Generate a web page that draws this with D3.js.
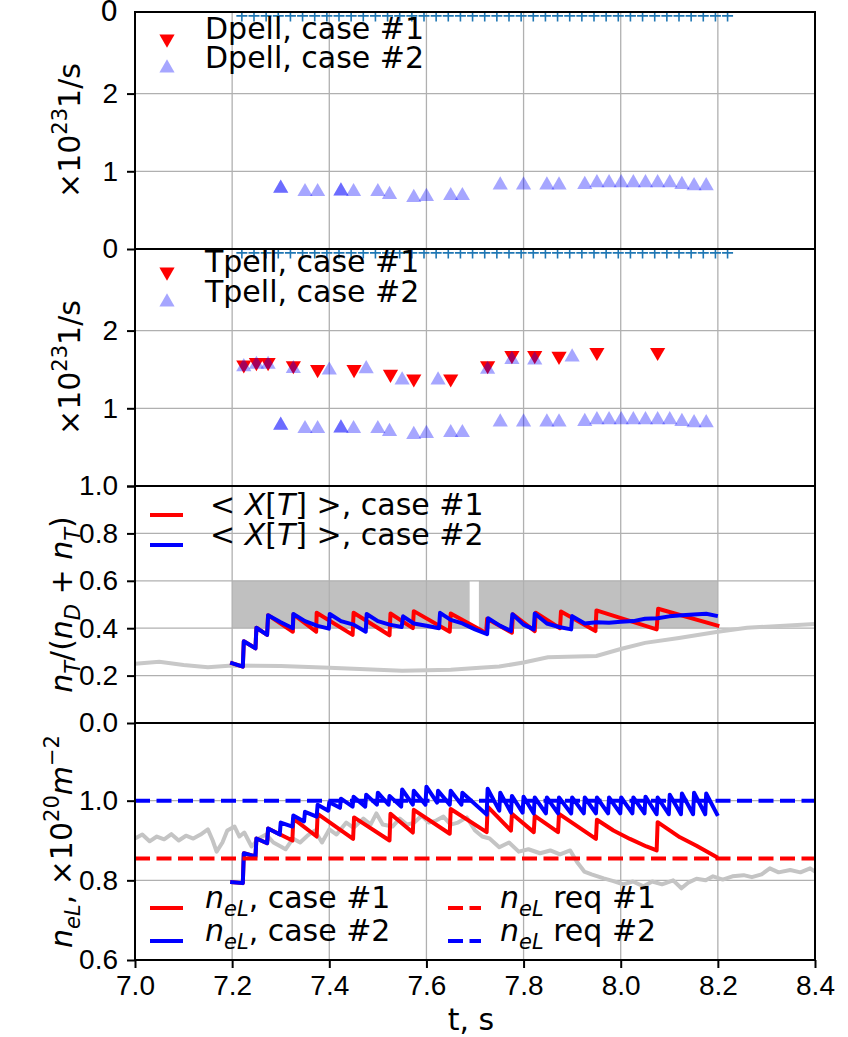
<!DOCTYPE html>
<html>
<head>
<meta charset="utf-8">
<script src="https://cdnjs.cloudflare.com/ajax/libs/d3/7.8.5/d3.min.js"></script>
<style>
  body { margin: 0; background: #fff; }
  svg { display: block; font-family: "DejaVu Sans", sans-serif; }
</style>
</head>
<body>
<svg id="chart" width="848" height="1037"></svg>
<script>
// ---- data ----
const tTicks = [7.0, 7.2, 7.4, 7.6, 7.8, 8.0, 8.2, 8.4];
const rateTicks = [0, 1, 2];
const fracTicks = [0.0, 0.2, 0.4, 0.6, 0.8, 1.0];
const nelTicks = [0.6, 0.8, 1.0];

// blue "+" clock row along the top of the two pellet panels
const clockT = [7.22, 7.245, 7.27, 7.295, 7.32, 7.345, 7.37, 7.395, 7.42, 7.445, 7.47, 7.495,
  7.52, 7.545, 7.57, 7.595, 7.62, 7.645, 7.67, 7.695, 7.72, 7.745, 7.77, 7.795, 7.82, 7.845,
  7.87, 7.895, 7.92, 7.945, 7.97, 7.995, 8.02, 8.045, 8.07, 8.095, 8.12, 8.145, 8.17, 8.195, 8.22];
const clockLevel = 3.0;

// D pellets, case #2 (no D pellets in case #1)
const dpell2 = [[7.30, 0.78], [7.30, 0.78], [7.35, 0.737], [7.376, 0.737], [7.424, 0.746], [7.424, 0.746],
  [7.45, 0.737], [7.50, 0.737], [7.524, 0.70], [7.574, 0.661], [7.60, 0.674], [7.65, 0.686], [7.674, 0.686],
  [7.752, 0.822], [7.80, 0.822], [7.848, 0.822], [7.873, 0.822], [7.926, 0.83], [7.951, 0.852], [7.976, 0.852],
  [8.001, 0.852], [8.026, 0.852], [8.051, 0.852], [8.076, 0.852], [8.101, 0.852], [8.126, 0.83], [8.151, 0.814], [8.176, 0.814]];

// T pellets
const tpell1 = [[7.224, 1.56], [7.25, 1.59], [7.274, 1.59], [7.326, 1.55], [7.376, 1.50], [7.451, 1.50],
  [7.526, 1.44], [7.574, 1.38], [7.65, 1.38], [7.726, 1.55], [7.776, 1.68], [7.823, 1.68], [7.873, 1.67],
  [7.951, 1.72], [8.076, 1.72]];
const tpell2 = [[7.224, 1.534], [7.25, 1.564], [7.274, 1.564], [7.326, 1.51], [7.40, 1.49], [7.476, 1.508],
  [7.55, 1.364], [7.624, 1.364], [7.726, 1.50], [7.776, 1.627], [7.823, 1.62], [7.90, 1.66],
  [7.30, 0.78], [7.30, 0.78], [7.35, 0.737], [7.376, 0.737], [7.424, 0.746], [7.424, 0.746],
  [7.45, 0.737], [7.50, 0.737], [7.524, 0.70], [7.574, 0.661], [7.60, 0.674], [7.65, 0.686], [7.674, 0.686],
  [7.752, 0.822], [7.80, 0.822], [7.848, 0.822], [7.873, 0.822], [7.926, 0.83], [7.951, 0.852], [7.976, 0.852],
  [8.001, 0.852], [8.026, 0.852], [8.051, 0.852], [8.076, 0.852], [8.101, 0.852], [8.126, 0.83], [8.151, 0.814], [8.176, 0.814]];

// tritium fraction target band (two pieces)
const bandLo = 0.4, bandHi = 0.6;
const bandSpans = [[7.2, 7.689], [7.708, 8.2]];

// reference tritium fraction (grey)
const xtRef = [[7.0, 0.25], [7.05, 0.258], [7.1, 0.245], [7.15, 0.235], [7.2, 0.243], [7.3, 0.24], [7.4, 0.233],
  [7.5, 0.225], [7.55, 0.22], [7.65, 0.225], [7.71, 0.233], [7.75, 0.238], [7.8, 0.255], [7.85, 0.277],
  [7.95, 0.283], [8.0, 0.312], [8.05, 0.338], [8.12, 0.359], [8.2, 0.385], [8.26, 0.402], [8.4, 0.418]];

const xt1 = [[7.196, 0.255], [7.222, 0.238], [7.224, 0.345], [7.248, 0.315], [7.25, 0.402], [7.272, 0.372],
  [7.274, 0.455], [7.325, 0.385], [7.326, 0.458], [7.373, 0.385], [7.374, 0.465], [7.448, 0.372],
  [7.45, 0.465], [7.524, 0.37], [7.526, 0.462], [7.572, 0.40], [7.574, 0.472], [7.648, 0.385],
  [7.65, 0.462], [7.723, 0.38], [7.725, 0.44], [7.776, 0.381], [7.778, 0.459], [7.823, 0.388],
  [7.825, 0.465], [7.875, 0.40], [7.877, 0.47], [7.948, 0.388], [7.95, 0.475], [8.074, 0.395],
  [8.077, 0.482], [8.203, 0.409]];

const xt2 = [[7.196, 0.255], [7.222, 0.238], [7.224, 0.345], [7.248, 0.315], [7.25, 0.402], [7.272, 0.372],
  [7.274, 0.455], [7.30, 0.425], [7.325, 0.40], [7.326, 0.46], [7.35, 0.43], [7.376, 0.41], [7.399, 0.398],
  [7.401, 0.46], [7.424, 0.43], [7.45, 0.415], [7.475, 0.385], [7.477, 0.46], [7.50, 0.43], [7.524, 0.415],
  [7.549, 0.405], [7.552, 0.45], [7.574, 0.42], [7.60, 0.41], [7.626, 0.40], [7.628, 0.465], [7.65, 0.435],
  [7.674, 0.42], [7.70, 0.395], [7.725, 0.375], [7.727, 0.442], [7.752, 0.41], [7.774, 0.388], [7.777, 0.459],
  [7.80, 0.415], [7.821, 0.395], [7.823, 0.462], [7.848, 0.42], [7.873, 0.405], [7.898, 0.395], [7.90, 0.451],
  [7.926, 0.42], [7.95, 0.425], [7.976, 0.423], [8.0, 0.427], [8.026, 0.43], [8.05, 0.44], [8.076, 0.442],
  [8.10, 0.45], [8.126, 0.455], [8.15, 0.458], [8.176, 0.461], [8.20, 0.451]];

// line-averaged density
const nelRef = [[7.0, 0.905], [7.015, 0.915], [7.03, 0.898], [7.045, 0.91], [7.06, 0.903], [7.075, 0.916],
  [7.09, 0.9], [7.105, 0.912], [7.12, 0.905], [7.135, 0.915], [7.15, 0.928], [7.16, 0.9], [7.168, 0.872],
  [7.18, 0.895], [7.19, 0.925], [7.205, 0.935], [7.215, 0.91], [7.225, 0.92], [7.24, 0.885], [7.255, 0.905],
  [7.27, 0.915], [7.285, 0.895], [7.3, 0.885], [7.31, 0.878], [7.325, 0.905], [7.34, 0.895], [7.355, 0.912],
  [7.37, 0.925], [7.385, 0.895], [7.4, 0.928], [7.415, 0.915], [7.435, 0.945], [7.45, 0.932], [7.47, 0.955],
  [7.485, 0.94], [7.497, 0.968], [7.51, 0.94], [7.53, 0.935], [7.545, 0.955], [7.56, 0.94], [7.575, 0.945],
  [7.59, 0.962], [7.605, 0.945], [7.62, 0.95], [7.635, 0.96], [7.65, 0.94], [7.665, 0.945], [7.683, 0.958],
  [7.7, 0.925], [7.715, 0.91], [7.73, 0.905], [7.75, 0.883], [7.77, 0.895], [7.79, 0.872], [7.81, 0.878],
  [7.834, 0.868], [7.855, 0.875], [7.875, 0.865], [7.896, 0.875], [7.91, 0.846], [7.925, 0.822], [7.94, 0.815],
  [7.965, 0.805], [7.985, 0.798], [8.005, 0.79], [8.025, 0.797], [8.047, 0.785], [8.065, 0.797], [8.085, 0.79],
  [8.108, 0.8], [8.125, 0.78], [8.14, 0.795], [8.156, 0.804], [8.175, 0.8], [8.19, 0.81], [8.21, 0.802],
  [8.23, 0.81], [8.253, 0.813], [8.27, 0.808], [8.29, 0.815], [8.307, 0.83], [8.325, 0.82], [8.349, 0.826],
  [8.37, 0.82], [8.39, 0.83], [8.4, 0.822]];

const nel1 = [[7.196, 0.796], [7.222, 0.793], [7.224, 0.868], [7.248, 0.86], [7.25, 0.905], [7.272, 0.893],
  [7.274, 0.93], [7.324, 0.90], [7.326, 0.955], [7.374, 0.91], [7.376, 0.967], [7.449, 0.904], [7.451, 0.958],
  [7.524, 0.90], [7.526, 0.967], [7.572, 0.92], [7.574, 0.977], [7.648, 0.917], [7.65, 0.979], [7.724, 0.921],
  [7.726, 0.985], [7.774, 0.925], [7.776, 0.967], [7.821, 0.921], [7.823, 0.962], [7.871, 0.921],
  [7.873, 0.967], [7.949, 0.904], [7.951, 0.952], [7.985, 0.925], [8.019, 0.904], [8.053, 0.885],
  [8.074, 0.875], [8.076, 0.946], [8.122, 0.908], [8.156, 0.887], [8.20, 0.857]];

const nel2 = [[7.196, 0.796], [7.222, 0.793], [7.224, 0.868], [7.248, 0.86], [7.25, 0.905], [7.272, 0.893],
  [7.274, 0.93], [7.298, 0.915], [7.30, 0.945], [7.324, 0.935], [7.326, 0.963], [7.348, 0.948], [7.35, 0.972],
  [7.374, 0.96], [7.376, 0.99], [7.398, 0.975], [7.40, 0.996], [7.422, 0.982], [7.424, 1.005], [7.448, 0.985],
  [7.45, 1.01], [7.474, 0.985], [7.476, 1.015], [7.498, 0.99], [7.50, 1.02], [7.522, 0.99], [7.524, 1.012],
  [7.548, 0.985], [7.55, 1.028], [7.572, 0.99], [7.574, 1.025], [7.598, 0.99], [7.60, 1.035], [7.622, 0.995],
  [7.624, 1.025], [7.648, 0.99], [7.65, 1.025], [7.672, 0.99], [7.674, 1.02], [7.724, 0.965], [7.726, 1.03],
  [7.75, 0.975], [7.752, 1.02], [7.774, 0.97], [7.776, 1.012], [7.798, 0.97], [7.80, 1.01], [7.821, 0.968],
  [7.823, 1.008], [7.846, 0.968], [7.848, 1.008], [7.871, 0.968], [7.873, 1.008], [7.898, 0.968], [7.90, 1.008],
  [7.924, 0.968], [7.926, 1.008], [7.949, 0.968], [7.951, 1.008], [7.974, 0.968], [7.976, 1.008], [7.999, 0.968],
  [8.001, 1.008], [8.024, 0.968], [8.026, 1.008], [8.049, 0.968], [8.051, 1.01], [8.074, 0.966], [8.076, 1.008],
  [8.099, 0.966], [8.101, 1.015], [8.124, 0.966], [8.126, 1.018], [8.149, 0.966], [8.151, 1.02], [8.174, 0.966],
  [8.176, 1.018], [8.20, 0.962]];

const nelReq1 = 0.855, nelReq2 = 1.0;

// ---- layout ----
const FS = 28;   // tick labels
const LS = 30;   // legends and axis titles
const left = 135, right = 815, top0 = 12, panelH = 237;
const x = d3.scaleLinear().domain([7.0, 8.4]).range([left, right]);
const svg = d3.select('#chart');
const red = '#ff0000', blue = '#0000ff', grid = '#b0b0b0';
const LW = 4;

const panels = [
  { domain: [0, 3.05], ticks: rateTicks, fmt: d3.format('d') },
  { domain: [0, 3.05], ticks: rateTicks, fmt: d => (d === 0 ? '' : d3.format('d')(d)) },
  { domain: [0, 1.0], ticks: fracTicks, fmt: d3.format('.1f') },
  { domain: [0.6, 1.195], ticks: nelTicks, fmt: d3.format('.1f') }
].map((p, i) => {
  const top = top0 + i * panelH;
  p.top = top;
  p.y = d3.scaleLinear().domain(p.domain).range([top + panelH, top]);
  p.g = svg.append('g');
  svg.append('clipPath').attr('id', 'clip' + i).append('rect')
    .attr('x', left).attr('y', top).attr('width', right - left).attr('height', panelH);
  return p;
});

function rich(textSel, parts, size) {
  let shift = 0;
  parts.forEach(p => {
    const target = p.s === 'sub' ? size * 0.28 : p.s === 'sup' ? -size * 0.42 : 0;
    textSel.append('tspan').text(p.t)
      .attr('dy', target - shift)
      .style('font-size', p.s ? (size * 0.7) + 'px' : null)
      .style('font-style', p.i ? 'italic' : null);
    shift = target;
  });
}

const line = y => d3.line().x(d => x(d[0])).y(d => y(d[1]));

function drawGrid(p) {
  p.g.append('g').selectAll('line').data(tTicks).join('line')
    .attr('x1', d => x(d)).attr('x2', d => x(d))
    .attr('y1', p.top).attr('y2', p.top + panelH)
    .attr('stroke', grid).attr('stroke-width', 1.3);
  p.g.append('g').selectAll('line').data(p.ticks).join('line')
    .attr('x1', left).attr('x2', right)
    .attr('y1', d => p.y(d)).attr('y2', d => p.y(d))
    .attr('stroke', grid).attr('stroke-width', 1.3);
}

const triUp = d3.symbol(d3.symbolTriangle, 100)();
const plusPath = 'M-5.5,0H5.5M0,-5.5V5.5';

function pelletPanel(i, redPts, bluePts) {
  const p = panels[i];
  drawGrid(p);
  const data = p.g.append('g').attr('clip-path', `url(#clip${i})`);
  data.selectAll('path.plus').data(clockT).join('path').attr('class', 'plus')
    .attr('d', plusPath)
    .attr('transform', d => `translate(${x(d)},${p.y(clockLevel)})`)
    .attr('fill', 'none').attr('stroke', '#1f77b4').attr('stroke-width', 1.6);
  data.selectAll('path.r').data(redPts).join('path').attr('class', 'r')
    .attr('d', triUp)
    .attr('transform', d => `translate(${x(d[0])},${p.y(d[1])}) rotate(180)`)
    .attr('fill', red);
  data.selectAll('path.b').data(bluePts).join('path').attr('class', 'b')
    .attr('d', triUp)
    .attr('transform', d => `translate(${x(d[0])},${p.y(d[1])})`)
    .attr('fill', blue).attr('fill-opacity', 0.35);
}

pelletPanel(0, [], dpell2);
pelletPanel(1, tpell1, tpell2);

// panel 3: tritium fraction
{
  const p = panels[2];
  p.g.append('g').selectAll('rect').data(bandSpans).join('rect')
    .attr('x', d => x(d[0])).attr('width', d => x(d[1]) - x(d[0]))
    .attr('y', p.y(bandHi)).attr('height', p.y(bandLo) - p.y(bandHi))
    .attr('fill', '#c0c0c0');
  drawGrid(p);
  const data = p.g.append('g').attr('clip-path', 'url(#clip2)');
  const ln = line(p.y);
  data.append('path').attr('d', ln(xtRef)).attr('fill', 'none')
    .attr('stroke', '#c8c8c8').attr('stroke-width', LW);
  data.append('path').attr('d', ln(xt1)).attr('fill', 'none')
    .attr('stroke', red).attr('stroke-width', LW).attr('stroke-linejoin', 'round');
  data.append('path').attr('d', ln(xt2)).attr('fill', 'none')
    .attr('stroke', blue).attr('stroke-width', LW).attr('stroke-linejoin', 'round');
}

// panel 4: density
{
  const p = panels[3];
  drawGrid(p);
  const data = p.g.append('g').attr('clip-path', 'url(#clip3)');
  const ln = line(p.y);
  data.append('path').attr('d', ln(nelRef)).attr('fill', 'none')
    .attr('stroke', '#c4c4c4').attr('stroke-width', LW).attr('stroke-linejoin', 'round');
  data.append('path').attr('d', ln(nel1)).attr('fill', 'none')
    .attr('stroke', red).attr('stroke-width', LW).attr('stroke-linejoin', 'round');
  data.append('path').attr('d', ln(nel2)).attr('fill', 'none')
    .attr('stroke', blue).attr('stroke-width', LW).attr('stroke-linejoin', 'round');
  [[nelReq1, red], [nelReq2, blue]].forEach(([v, c]) => {
    data.append('path').attr('d', ln([[7.0, v], [8.4, v]])).attr('fill', 'none')
      .attr('stroke', c).attr('stroke-width', LW).attr('stroke-dasharray', '15,6.5');
  });
}

// spines, y axes
panels.forEach((p, i) => {
  p.g.append('rect').attr('x', left).attr('y', p.top).attr('width', right - left).attr('height', panelH)
    .attr('fill', 'none').attr('stroke', '#000').attr('stroke-width', 2);
  const ax = p.g.append('g').attr('transform', `translate(${left},0)`)
    .call(d3.axisLeft(p.y).tickValues(p.ticks).tickFormat(p.fmt).tickSize(8).tickPadding(9));
  ax.select('.domain').remove();
  ax.selectAll('line').attr('stroke', '#000').attr('stroke-width', 2);
  ax.selectAll('text').style('font-size', FS + 'px').attr('fill', '#000');
});

// tick label of the (cropped) panel above
svg.append('text').attr('x', left - 17).attr('y', top0).attr('dy', '0.32em')
  .attr('text-anchor', 'end').style('font-size', FS + 'px').text('0');

// x axis
{
  const p = panels[3];
  const ax = svg.append('g').attr('transform', `translate(0,${p.top + panelH})`)
    .call(d3.axisBottom(x).tickValues(tTicks).tickFormat(d3.format('.1f')).tickSize(8).tickPadding(7));
  ax.select('.domain').remove();
  ax.selectAll('line').attr('stroke', '#000').attr('stroke-width', 2);
  ax.selectAll('text').style('font-size', FS + 'px').attr('fill', '#000');
  svg.append('text').attr('x', (left + right) / 2 - 4).attr('y', 1030)
    .attr('text-anchor', 'middle').style('font-size', LS + 'px').text('t, s');
}

// y labels
const ylabels = [
  { cx: 80, parts: [{ t: '×10' }, { t: '23', s: 'sup' }, { t: '1/s' }] },
  { cx: 80, parts: [{ t: '×10' }, { t: '23', s: 'sup' }, { t: '1/s' }] },
  { cx: 72, parts: [{ t: 'n', i: 1 }, { t: 'T', i: 1, s: 'sub' }, { t: '/(' }, { t: 'n', i: 1 }, { t: 'D', i: 1, s: 'sub' },
    { t: ' + ' }, { t: 'n', i: 1 }, { t: 'T', i: 1, s: 'sub' }, { t: ')' }] },
  { cx: 72, parts: [{ t: 'n', i: 1 }, { t: 'eL', i: 1, s: 'sub' }, { t: ',  ×10' }, { t: '20', s: 'sup' },
    { t: 'm', i: 1 }, { t: '−2', s: 'sup' }] }
];
ylabels.forEach((l, i) => {
  const cy = panels[i].top + panelH / 2;
  const t = svg.append('text').attr('transform', `translate(${l.cx},${cy}) rotate(-90)`)
    .attr('text-anchor', 'middle').attr('dy', '0.35em').style('font-size', LS + 'px');
  rich(t, l.parts, LS);
});

// legends
function legendText(xp, yp, parts) {
  const t = svg.append('text').attr('x', xp).attr('y', yp).attr('dy', '0.35em').style('font-size', LS + 'px');
  rich(t, parts, LS);
}
[['Dpell', 39, 68], ['Tpell', 272, 302]].forEach(([name, y1, y2]) => {
  svg.append('path').attr('d', triUp).attr('transform', `translate(167,${y1}) rotate(180)`).attr('fill', red);
  svg.append('path').attr('d', triUp).attr('transform', `translate(167,${y2})`).attr('fill', blue).attr('fill-opacity', 0.35);
  legendText(205, y1, [{ t: name + ', case #1' }]);
  legendText(205, y2, [{ t: name + ', case #2' }]);
});
[[515, red, '1'], [545, blue, '2']].forEach(([yy, c, n]) => {
  svg.append('line').attr('x1', 150).attr('x2', 183).attr('y1', yy).attr('y2', yy)
    .attr('stroke', c).attr('stroke-width', LW);
  legendText(210, yy, [{ t: '< ' }, { t: 'X', i: 1 }, { t: '[' }, { t: 'T', i: 1 }, { t: '] >' }, { t: ', case #' + n }]);
});
[[908, red, '1'], [941, blue, '2']].forEach(([yy, c, n]) => {
  svg.append('line').attr('x1', 150).attr('x2', 183).attr('y1', yy).attr('y2', yy)
    .attr('stroke', c).attr('stroke-width', LW);
  legendText(205, yy, [{ t: 'n', i: 1 }, { t: 'eL', i: 1, s: 'sub' }, { t: ', case #' + n }]);
  svg.append('line').attr('x1', 448).attr('x2', 481).attr('y1', yy).attr('y2', yy)
    .attr('stroke', c).attr('stroke-width', LW).attr('stroke-dasharray', '15,6.5');
  legendText(500, yy, [{ t: 'n', i: 1 }, { t: 'eL', i: 1, s: 'sub' }, { t: ' req #' + n }]);
});
</script>
</body>
</html>
